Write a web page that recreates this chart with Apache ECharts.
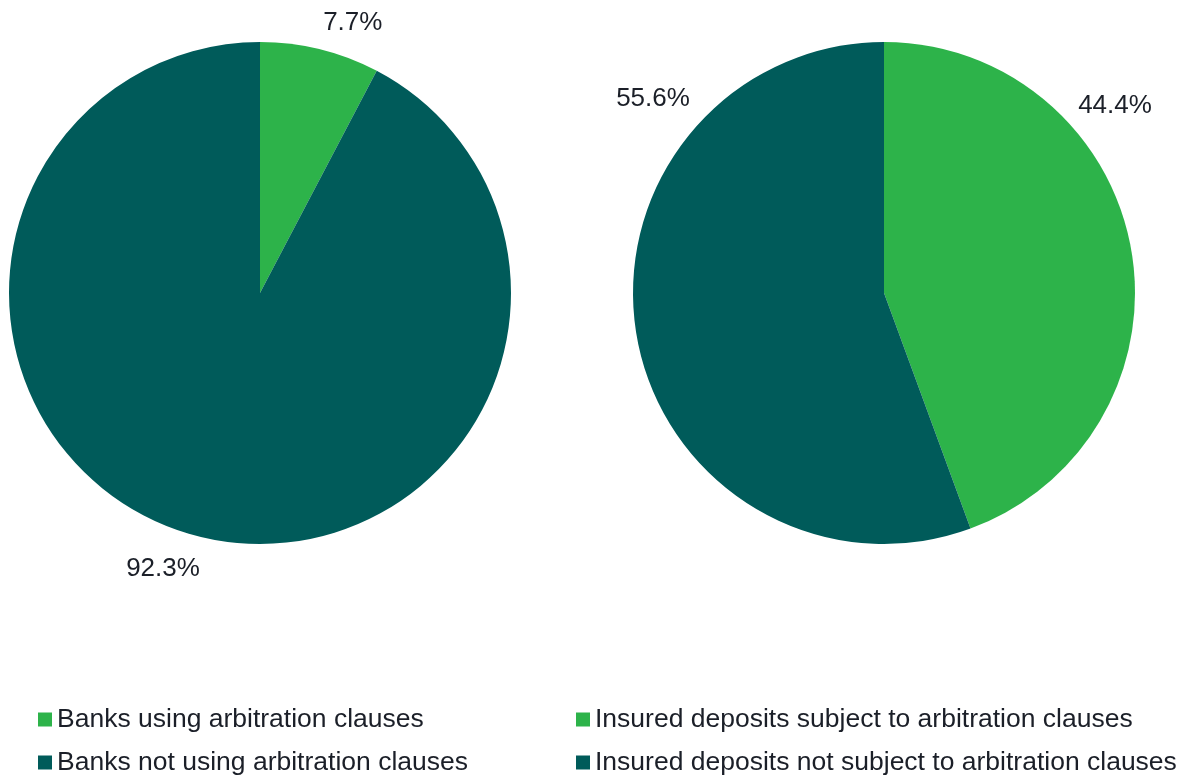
<!DOCTYPE html>
<html>
<head>
<meta charset="utf-8">
<title>Arbitration clauses</title>
<script src="https://cdn.jsdelivr.net/npm/echarts@6/dist/echarts.min.js"></script>
<style>
  html, body { margin: 0; padding: 0; background: #fff; }
  #chart { width: 1189px; height: 777px; }
</style>
</head>
<body>
<div id="chart"></div>
<script>
// left pie: share of banks
var bankNames = ['Banks using arbitration clauses', 'Banks not using arbitration clauses']
var bankValues = [7.7, 92.3]
// right pie: share of insured deposits
var depositNames = ['Insured deposits subject to arbitration clauses', 'Insured deposits not subject to arbitration clauses']
var depositValues = [44.4, 55.6]

var colors = ['#2db34a', '#005b5a']
var textColor = '#1b1f28'
var font = 'Liberation Sans, Arial, sans-serif'

function toData(names, values) {
  return names.map(function (n, i) {
    return { name: n, value: values[i] }
  })
}

// nudges so the labels sit where the original put them
var bankLabelShift = [[-2, -26], [5, 32]]
var depositLabelShift = [[-58, -143], [58, -238]]

function pieSeries(names, values, center, shift) {
  return {
    type: 'pie',
    center: center,
    radius: 251,
    startAngle: 90,
    clockwise: true,
    avoidLabelOverlap: false,
    silent: true,
    data: toData(names, values),
    label: {
      show: true,
      position: 'outside',
      formatter: function (p) { return p.value.toFixed(1) + '%' },
      color: textColor,
      fontFamily: font,
      fontSize: 26
    },
    labelLine: { show: false, length: 0, length2: 0 },
    labelLayout: function (p) {
      var s = shift[p.dataIndex]
      return { dx: s[0], dy: s[1] }
    },
    emphasis: { disabled: true }
  }
}

function legendAt(left, names) {
  return {
    data: names,
    orient: 'vertical',
    left: left,
    top: 706,
    padding: 0,
    icon: 'rect',
    itemWidth: 14,
    itemHeight: 14,
    itemGap: 16,
    itemStyle: { borderWidth: 0 },
    textStyle: { color: textColor, fontFamily: font, fontSize: 26.5, lineHeight: 26 },
    selectedMode: false
  }
}

var chart = echarts.init(document.getElementById('chart'))
chart.setOption({
  animation: false,
  color: colors,
  legend: [legendAt(38, bankNames), legendAt(576, depositNames)],
  series: [
    pieSeries(bankNames, bankValues, [260, 293], bankLabelShift),
    pieSeries(depositNames, depositValues, [884, 293], depositLabelShift)
  ]
})
</script>
</body>
</html>
